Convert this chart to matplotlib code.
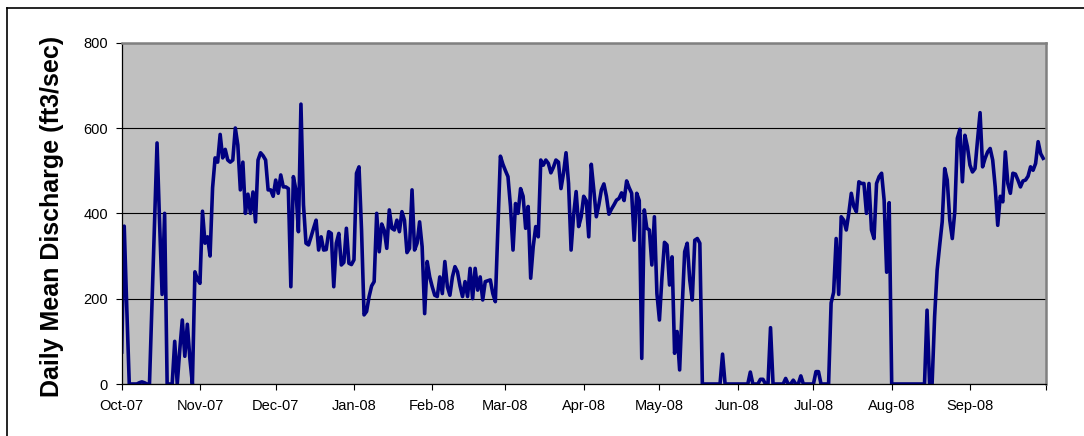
import numpy as np
import pandas as pd
import matplotlib
matplotlib.use("Agg")
import matplotlib.pyplot as plt
from matplotlib.lines import Line2D

plt.rcParams["font.family"] = ["Liberation Sans", "DejaVu Sans"]

# daily mean discharge (ft3/sec), water year Oct-2007 .. Sep-2008
oct07 = [75, 370, 180, 0, 0, 0, 0, 3, 5, 3, 0, 0, 190, 380, 565, 380, 210, 400,
         0, 0, 0, 100, 0, 80, 150, 65, 140, 60, 0, 263, 245]
nov07 = [236, 405, 330, 345, 300, 460, 530, 520, 585, 530, 550, 525, 520, 525, 600,
         560, 455, 520, 400, 445, 400, 450, 380, 525, 542, 535, 525, 455, 455, 440]
dec07 = [478, 447, 490, 462, 462, 458, 228, 486, 455, 357, 656, 420, 330, 326, 345,
         365, 384, 314, 345, 314, 315, 357, 353, 228, 330, 353, 279, 285, 365, 283, 280]
jan08 = [291, 494, 509, 361, 162, 170, 205, 230, 240, 400, 310, 375, 360, 318, 408,
         365, 361, 384, 357, 404, 384, 308, 318, 455, 314, 330, 380, 322, 165, 287, 251]
feb08 = [228, 208, 205, 251, 212, 287, 228, 208, 251, 275, 263, 230, 205, 240, 205,
         271, 200, 271, 220, 251, 197, 240, 242, 244, 212, 193, 360, 534, 515]
mar08 = [500, 486, 416, 314, 423, 400, 458, 440, 365, 416, 248, 322, 369, 345, 525,
         513, 525, 517, 495, 508, 525, 520, 458, 494, 542, 470, 314, 396, 451, 369, 392]
apr08 = [440, 430, 345, 515, 455, 392, 420, 455, 469, 440, 398, 410, 420, 431, 435,
         448, 430, 476, 460, 447, 337, 447, 430, 60, 408, 365, 361, 279, 392, 212]
may08 = [150, 250, 332, 326, 232, 298, 72, 123, 33, 180, 310, 330, 244, 197, 337,
         341, 330, 0, 0, 0, 0, 0, 0, 0, 0, 70, 0, 0, 0, 0, 0]
jun08 = [0, 0, 0, 0, 0, 28, 0, 0, 0, 11, 11, 0, 0, 132, 0, 0, 0, 0, 0, 13, 0, 0,
         9, 0, 0, 19, 0, 0, 0, 0]
jul08 = [0, 29, 29, 0, 0, 0, 0, 190, 215, 341, 210, 392, 384, 361, 400, 447, 416,
         404, 474, 470, 470, 400, 470, 361, 341, 470, 486, 494, 431, 262, 425]
aug08 = [0, 0, 0, 0, 0, 0, 0, 0, 0, 0, 0, 0, 0, 0, 173, 0, 0, 158, 267, 325, 380,
         505, 478, 384, 341, 405, 576, 597, 474, 583, 556]
sep08 = [513, 497, 505, 572, 636, 509, 529, 544, 552, 525, 462, 372, 440, 427, 544,
         470, 447, 494, 492, 478, 462, 476, 478, 487, 509, 501, 517, 568, 540, 529]

month_labels = ["Oct-07", "Nov-07", "Dec-07", "Jan-08", "Feb-08", "Mar-08",
                "Apr-08", "May-08", "Jun-08", "Jul-08", "Aug-08", "Sep-08", ""]
y_ticks = [0, 200, 400, 600, 800]

flow = np.array(oct07 + nov07 + dec07 + jan08 + feb08 + mar08 + apr08 + may08
                + jun08 + jul08 + aug08 + sep08, dtype=float)
days = pd.date_range("2007-10-01", periods=len(flow), freq="D")
month_starts = pd.date_range("2007-10-01", "2008-10-01", freq="MS")

fig = plt.figure(figsize=(10.84, 4.36), dpi=100)
ax = fig.add_axes([121.7 / 1084, 1 - 384 / 436, (1045.7 - 121.7) / 1084, (384 - 42.7) / 436])
ax.set_facecolor("#c0c0c0")

ax.plot(days, flow, color="#000080", linewidth=2.6, solid_joinstyle="round")

ax.set_xlim(month_starts[0], month_starts[-1])
ax.set_ylim(0, 800)
ax.set_yticks(y_ticks)
ax.set_xticks(month_starts)
ax.set_xticklabels(month_labels)
ax.yaxis.grid(True, color="black", linewidth=0.8)
ax.set_axisbelow(True)

ax.tick_params(axis="both", direction="out", length=4, width=0.8, color="black",
               labelsize=10.5)
ax.tick_params(axis="y", pad=6)
ax.tick_params(axis="x", pad=7)

for side in ("left", "bottom"):
    ax.spines[side].set_color("black")
    ax.spines[side].set_linewidth(0.9)
for side in ("top", "right"):
    ax.spines[side].set_color("#808080")
    ax.spines[side].set_linewidth(1.8)

fig.text(52 / 1084, 1 - 216 / 436, "Daily Mean Discharge (ft3/sec)", rotation=90,
         ha="center", va="center", fontsize=18, fontweight="bold")

# chart area frame (top and left edges visible)
fig.add_artist(Line2D([7 / 1084, 1], [1 - 8 / 436, 1 - 8 / 436], color="black",
                      linewidth=1.2, transform=fig.transFigure))
fig.add_artist(Line2D([7 / 1084, 7 / 1084], [0, 1 - 8 / 436], color="black",
                      linewidth=1.2, transform=fig.transFigure))

fig.savefig("out.png", dpi=100)
plt.close(fig)
